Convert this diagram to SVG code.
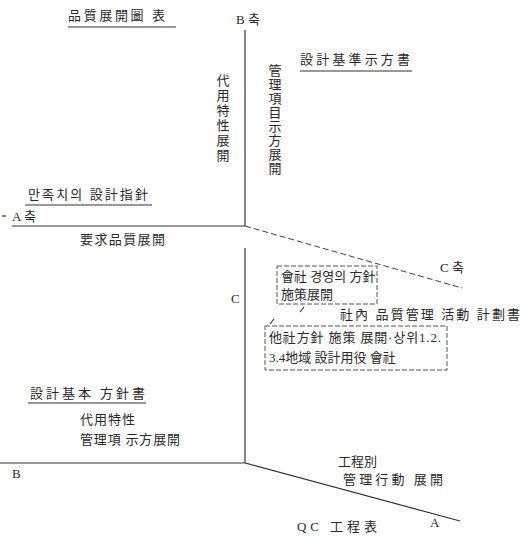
<svg xmlns="http://www.w3.org/2000/svg" width="532" height="538" viewBox="0 0 532 538">
<style>
text{font-family:"Liberation Serif","Noto Sans CJK KR",serif;fill:#2a2a2a;font-size:13px}
.ax{stroke:#333;stroke-width:1.2;fill:none}
.dash{stroke:#444;stroke-width:1;fill:none;stroke-dasharray:6 3}
.ul{stroke:#333;stroke-width:1.2}
.box{stroke:#555;stroke-width:1;fill:none;stroke-dasharray:5 2}
.v{writing-mode:tb;glyph-orientation-vertical:0}
</style>
<rect width="532" height="538" fill="#fff"/>
<g id="connectors">
<line class="ax" x1="245" y1="30" x2="245" y2="226"/>
<line class="ax" x1="245" y1="248" x2="245" y2="463"/>
<line class="ax" x1="12" y1="226" x2="245" y2="226"/>
<line class="dash" x1="245" y1="226" x2="462" y2="288"/>
<line class="ax" x1="0" y1="463" x2="245" y2="463"/>
<line class="ax" x1="245" y1="463" x2="460" y2="521"/>
<line class="ul" x1="68" y1="27" x2="176" y2="27"/>
<line class="ul" x1="300" y1="71" x2="412" y2="71"/>
<line class="ul" x1="25" y1="205" x2="152" y2="205"/>
<line class="ul" x1="28" y1="403" x2="146" y2="403"/>
<line class="ax" x1="2" y1="216" x2="6" y2="216"/>
<path d="M300 312 L304 307" class="ax"/>
<path d="M270 324 L274 319" class="ax"/>
</g>
<g id="title"><text x="68" y="20" textLength="97" lengthAdjust="spacing">品質展開圖  表</text></g>
<g id="b-axis"><text x="236" y="24" font-size="10">B 축</text></g>
<g id="design-std"><text x="300" y="64" textLength="110" lengthAdjust="spacing">設計基準示方書</text></g>
<g id="subst-dev"><text class="v" x="222" y="74" font-size="13" letter-spacing="2">代用特性展開</text></g>
<g id="mgmt-dev"><text class="v" x="274" y="64" font-size="11" letter-spacing="1">管理項目示方展開</text></g>
<g id="design-guide"><text x="28" y="199" textLength="120" lengthAdjust="spacing">만족치의 設計指針</text></g>
<g id="a-axis"><text x="12" y="221" font-size="11">A 축</text></g>
<g id="req-dev"><text x="80" y="244" textLength="85" lengthAdjust="spacing">要求品質展開</text></g>
<g id="c-axis"><text x="440" y="272" font-size="11">C 축</text></g>
<g id="c-label"><text x="231" y="303" font-size="10">C</text></g>
<g id="company-policy">
<rect class="box" x="277" y="266" width="100" height="38"/>
<text x="281" y="281" font-size="11">會社 경영의 方針</text>
<text x="281" y="299" font-size="12">施策展開</text>
</g>
<g id="qc-plan"><text x="340" y="319" font-size="12" textLength="180" lengthAdjust="spacing">社內 品質管理 活動 計劃書</text></g>
<g id="other-policy">
<rect class="box" x="265" y="326" width="182" height="44"/>
<text x="269" y="342" textLength="172" lengthAdjust="spacing">他社方針 施策 展開·상위1.2.</text>
<text x="269" y="362" font-size="12">3.4地域 設計用役 會社</text>
</g>
<g id="design-basic"><text x="30" y="398" textLength="115" lengthAdjust="spacing">設計基本 方針書</text></g>
<g id="subst"><text x="80" y="424" font-size="12" textLength="55" lengthAdjust="spacing">代用特性</text></g>
<g id="mgmt-spec"><text x="80" y="444" font-size="12" textLength="100" lengthAdjust="spacing">管理項 示方展開</text></g>
<g id="b-label"><text x="12" y="478" font-size="11">B</text></g>
<g id="process"><text x="338" y="466" font-size="12" textLength="39" lengthAdjust="spacing">工程別</text><text x="343" y="484" font-size="12" textLength="100" lengthAdjust="spacing">管理行動 展開</text></g>
<g id="qc-table"><text x="297" y="531" font-size="12" textLength="80" lengthAdjust="spacing">QC  工程表</text></g>
<g id="a-label"><text x="430" y="527" font-size="11">A</text></g>
</svg>
